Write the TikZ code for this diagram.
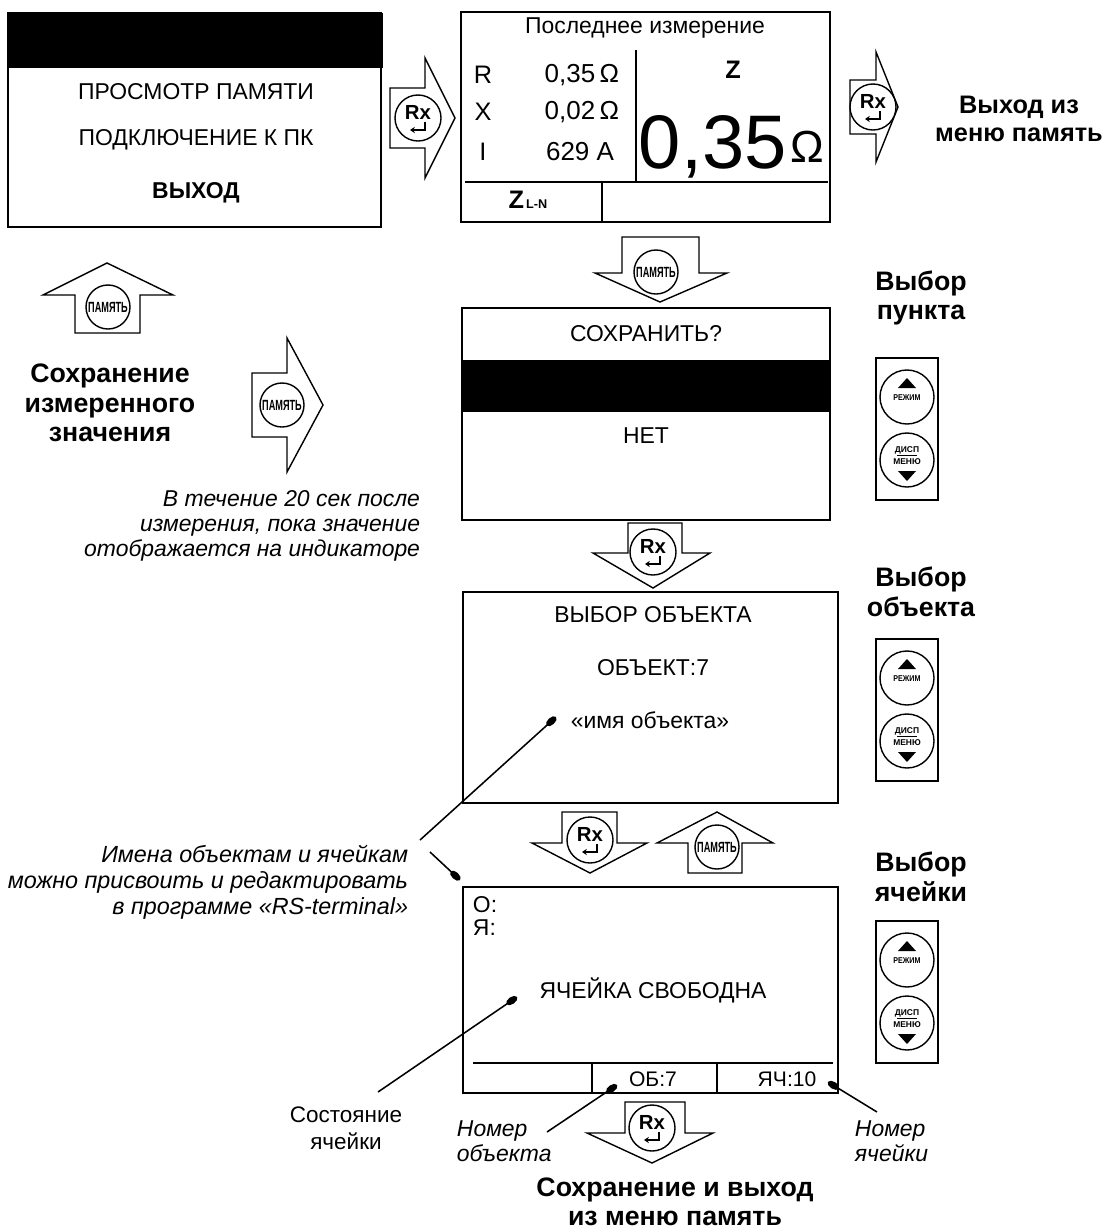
\documentclass[tikz,border=0pt]{standalone}
\usepackage{fontspec}
\setmainfont{Liberation Sans}
\usetikzlibrary{arrows.meta}
\begin{document}
\begin{tikzpicture}[x=0.025cm, y=-0.025cm,
    scr/.style={font=\fontsize{16.3}{19}\selectfont},
    hdr/.style={font=\fontsize{19}{21}\selectfont\bfseries, align=center},
    note/.style={font=\fontsize{16.3}{17.7}\selectfont\itshape, align=right},
    box/.style={line width=1.6pt},
    blk/.style={line width=1pt, fill=white},
    keyc/.style={circle, draw, fill=white, line width=1pt, inner sep=0pt},
    leader/.style={line width=1.1pt, -{Ellipse[length=9pt, width=5pt]}},
    rxkey/.pic={
        \node[keyc, minimum size=1.15cm] (-c) at (0,0) {};
        \node[font=\fontsize{14.5}{14.5}\selectfont\bfseries] (-t) at (0,-6) {Rx};
        \draw[line width=1pt, -{Stealth[length=3.5pt, width=4.5pt]}] (7,4) -- (7,12) -- (-8,12);
    },
    memkey/.pic={
        \node[keyc, minimum size=1.1cm] (-c) at (0,0) {};
        \node[font=\fontsize{10.5}{10.5}\selectfont\bfseries] (-t) at (0,0) {\scalebox{0.62}[1]{ПАМЯТЬ}};
    },
    modekeys/.pic={
        \node[draw, line width=1.2pt, minimum width=1.55cm, minimum height=3.55cm] (-p) at (0,0) {};
        \node[keyc, minimum size=1.35cm] (-up) at (0,-32) {};
        \node[keyc, minimum size=1.35cm] (-dn) at (0,31) {};
        \fill (-9,-41) -- (9,-41) -- (0,-51) -- cycle;
        \node[font=\fontsize{6}{6}\selectfont\bfseries] (-mode) at (0,-31) {\scalebox{0.85}[1]{РЕЖИМ}};
        \node[font=\fontsize{6}{6}\selectfont\bfseries] (-disp) at (0,21) {ДИСП};
        \draw[line width=0.6pt] (-10,26) -- (10,26);
        \node[font=\fontsize{6}{6}\selectfont\bfseries] (-menu) at (0,33) {МЕНЮ};
        \fill (-9,42) -- (9,42) -- (0,52) -- cycle;
    }]
\useasboundingbox (0,0) rectangle (1107,1230);

% menu screen
\fill (8,13) rectangle (383,68);
\draw[box] (8,13) rectangle (381,227);
\node[scr] (view) at (196,92) {ПРОСМОТР ПАМЯТИ};
\node[scr] (pc) at (196,140) {ПОДКЛЮЧЕНИЕ К ПК};
\node[scr] (quit) at (196,193) {\textbf{ВЫХОД}};
\draw[blk] (390,88) -- (425,88) -- (425,58) -- (455,118) -- (425,178) -- (425,148) -- (390,148) -- cycle;
\pic (rx1) at (418,118) {rxkey};

% last measurement screen
\draw[box] (461,12) rectangle (830,222);
\draw[line width=1.2pt] (636,50) -- (636,182);
\draw[line width=1.2pt] (465,182) -- (828,182);
\draw[line width=1.2pt] (602,182) -- (602,222);
\node[scr] (last) at (645,28) {Последнее измерение};
\node[font=\fontsize{18}{18}\selectfont] (rname) at (483,75) {R};
\node[font=\fontsize{18}{18}\selectfont] (xname) at (483,112) {X};
\node[font=\fontsize{18}{18}\selectfont] (iname) at (483,152) {I};
\node[font=\fontsize{18.5}{18}\selectfont, anchor=east] (rval) at (624,75) {0,35\,Ω};
\node[font=\fontsize{18.5}{18}\selectfont, anchor=east] (xval) at (624,112) {0,02\,Ω};
\node[font=\fontsize{18.5}{18}\selectfont, anchor=east] (ival) at (619,152) {629 A};
\node[font=\fontsize{18}{18}\selectfont\bfseries] (zname) at (733,70) {Z};
\node[font=\fontsize{54}{54}\selectfont, anchor=base west] (zval) at (634,168) {0,35};
\node[font=\fontsize{32}{32}\selectfont, anchor=base west] (ohm) at (786,162) {Ω};
\node (zln) at (528,200) {\fontsize{18}{18}\selectfont\bfseries Z\fontsize{9}{9}\selectfont\,L-N};
\draw[blk] (850,80) -- (876,80) -- (876,52) -- (898,107) -- (876,162) -- (876,134) -- (850,134) -- cycle;
\pic (rx2) at (873,107) {rxkey};
\node[hdr, font=\fontsize{18}{20}\selectfont\bfseries] (exit1) at (1019,119) {Выход из\\меню память};

% save question
\draw[blk] (622,237) -- (699,237) -- (699,273) -- (727,273) -- (660,302) -- (595,273) -- (622,273) -- cycle;
\pic (mem1) at (656,272) {memkey};
\draw[blk] (75,333) -- (75,295) -- (43,295) -- (107,263) -- (173,295) -- (140,295) -- (140,333) -- cycle;
\pic (mem2) at (108,307) {memkey};
\node[hdr] (store) at (110,403) {Сохранение\\измеренного\\значения};
\draw[blk] (252,373) -- (287,373) -- (287,338) -- (323,405) -- (287,472) -- (287,437) -- (252,437) -- cycle;
\pic (mem3) at (282,405) {memkey};
\node[note, anchor=north east] (within) at (425,486) {В течение 20 сек после\\измерения, пока значение\\отображается на индикаторе};
\fill (462,360) rectangle (830,412);
\draw[box] (462,308) rectangle (830,520);
\node[scr] (ask) at (646,334) {СОХРАНИТЬ?};
\node[scr] (no) at (646,436) {НЕТ};
\node[hdr] (pick) at (921,298) {Выбор\\пункта};
\pic (keys1) at (907,429) {modekeys};

% object screen
\draw[blk] (628,523) -- (682,523) -- (682,553) -- (710,553) -- (653,588) -- (593,553) -- (628,553) -- cycle;
\pic (rx3) at (653,552) {rxkey};
\draw[box] (463,592) rectangle (838,803);
\node[scr] (objsel) at (653,615) {ВЫБОР ОБЪЕКТА};
\node[scr] (obj) at (653,668) {ОБЪЕКТ:7};
\node[scr] (objname) at (650,720) {«имя объекта»};
\coordinate (objtip) at (556,717);
\node[hdr] (pickobj) at (921,592) {Выбор\\объекта};
\pic (keys2) at (907,710) {modekeys};

% cell screen
\draw[blk] (562,812) -- (617,812) -- (617,843) -- (647,843) -- (590,873) -- (532,843) -- (562,843) -- cycle;
\pic (rx4) at (590,840) {rxkey};
\draw[blk] (688,873) -- (688,843) -- (657,843) -- (717,812) -- (773,843) -- (742,843) -- (742,873) -- cycle;
\pic (mem4) at (717,847) {memkey};
\draw[box] (463,887) rectangle (838,1093);
\node[scr, anchor=west] (olab) at (468,905) {О:};
\node[scr, anchor=west] (clab) at (468,928) {Я:};
\node[scr] (free) at (653,990) {ЯЧЕЙКА СВОБОДНА};
\draw[line width=1.2pt] (473,1063) -- (833,1063);
\draw[line width=1.2pt] (592,1063) -- (592,1093);
\draw[line width=1.2pt] (717,1063) -- (717,1093);
\node[font=\fontsize{15}{15}\selectfont] (ob) at (653,1079) {ОБ:7};
\node[font=\fontsize{15}{15}\selectfont] (cell) at (787,1079) {ЯЧ:10};
\node[hdr] (pickcell) at (921,877) {Выбор\\ячейки};
\pic (keys3) at (907,992) {modekeys};
\draw[blk] (625,1102) -- (685,1102) -- (685,1133) -- (713,1133) -- (652,1163) -- (587,1133) -- (625,1133) -- cycle;
\pic (rx5) at (652,1128) {rxkey};
\node[hdr] (saveexit) at (675,1202) {Сохранение и выход\\из меню память};

% labels and leaders
\node[font=\fontsize{16.6}{18.4}\selectfont\itshape, align=right, anchor=east] (names) at (413,882) {Имена объектам и ячейкам\\можно присвоить и редактировать\\в программе «RS-terminal»};
\node[font=\fontsize{16}{19}\selectfont, align=center] (state) at (346,1128) {Состояние\\ячейки};
\node[font=\fontsize{16.3}{18}\selectfont\itshape, align=left, anchor=west] (objno) at (452,1141) {Номер\\объекта};
\node[font=\fontsize{16.3}{18}\selectfont\itshape, align=left, anchor=west] (cellno) at (850,1141) {Номер\\ячейки};
\coordinate (ntop) at (420,840);
\coordinate (nbot) at (430,852);
\coordinate (otip) at (460,880);
\coordinate (freetip) at (517,997);
\coordinate (obtip) at (617,1085);
\coordinate (celltip) at (828,1082);
\draw[leader] (ntop) -- (objtip);
\draw[leader] (nbot) -- (otip);
\draw[leader] (378,1092) -- (freetip);
\draw[leader] (547,1132) -- (obtip);
\draw[leader] (877,1112) -- (celltip);
\end{tikzpicture}
\end{document}
